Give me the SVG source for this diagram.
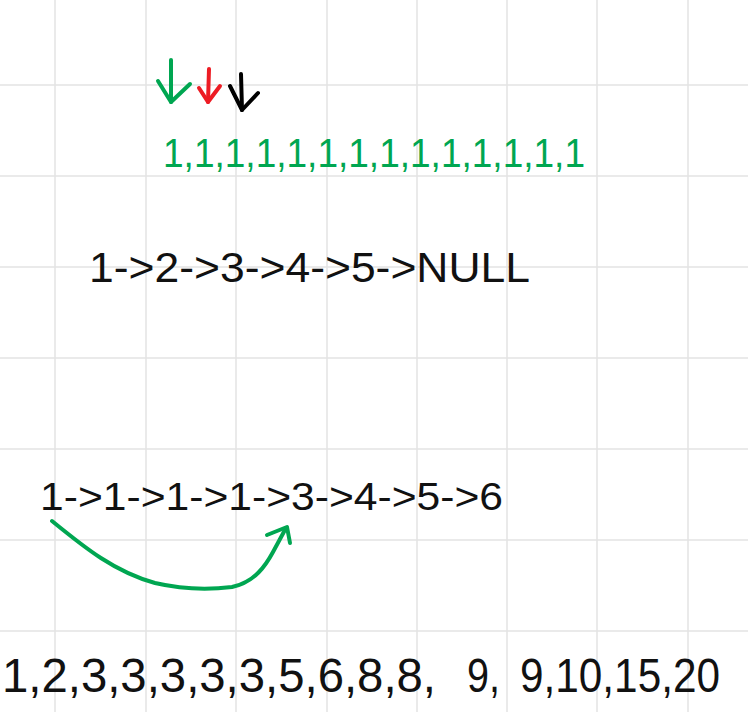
<svg xmlns="http://www.w3.org/2000/svg" width="748" height="712" viewBox="0 0 748 712">
<style>
.grid line{stroke:#e3e3e3;stroke-width:1.5}
.t{font-family:"Liberation Sans",Arial,sans-serif;fill:#111}
.g{fill:#00a651}
.stroke{fill:none;stroke-linecap:round;stroke-linejoin:round;stroke-width:4}
</style>
<rect width="748" height="712" fill="#fff"/>
<g class="grid">
<line x1="55" y1="0" x2="55" y2="712"/><line x1="146" y1="0" x2="146" y2="712"/><line x1="236" y1="0" x2="236" y2="712"/><line x1="327" y1="0" x2="327" y2="712"/><line x1="417" y1="0" x2="417" y2="712"/><line x1="507" y1="0" x2="507" y2="712"/><line x1="597" y1="0" x2="597" y2="712"/><line x1="688" y1="0" x2="688" y2="712"/>
<line x1="0" y1="85" x2="748" y2="85"/><line x1="0" y1="176" x2="748" y2="176"/><line x1="0" y1="267" x2="748" y2="267"/><line x1="0" y1="358" x2="748" y2="358"/><line x1="0" y1="449" x2="748" y2="449"/><line x1="0" y1="540" x2="748" y2="540"/><line x1="0" y1="631" x2="748" y2="631"/>
</g>
<g id="ones"><text class="t g" x="163" y="167" font-size="40" textLength="422" lengthAdjust="spacingAndGlyphs">1,1,1,1,1,1,1,1,1,1,1,1,1,1</text></g>
<g id="list1"><text class="t" x="89" y="282" font-size="42" textLength="441" lengthAdjust="spacingAndGlyphs">1-&gt;2-&gt;3-&gt;4-&gt;5-&gt;NULL</text></g>
<g id="list2"><text class="t" x="40" y="510" font-size="39" textLength="463" lengthAdjust="spacingAndGlyphs">1-&gt;1-&gt;1-&gt;1-&gt;3-&gt;4-&gt;5-&gt;6</text></g>
<g id="numbers">
<text class="t" x="2" y="692" font-size="48" textLength="434" lengthAdjust="spacingAndGlyphs">1,2,3,3,3,3,3,5,6,8,8,</text>
<text class="t" x="467" y="692" font-size="48" textLength="33" lengthAdjust="spacingAndGlyphs">9,</text>
<text class="t" x="520" y="692" font-size="48" textLength="200" lengthAdjust="spacingAndGlyphs">9,10,15,20</text>
</g>
<g id="connectors">
<g id="arrow-green" class="stroke" stroke="#00a651" stroke-width="5"><path d="M171 60 L171 102"/><path d="M158 81 L171 102 L190 84"/></g>
<g id="arrow-red" class="stroke" stroke="#ed1c24"><path d="M209 69 L208 102"/><path d="M199 88 L208 102 L220 86"/></g>
<g id="arrow-black" class="stroke" stroke="#000"><path d="M241 74 L242 110"/><path d="M230 86 L242 110 L258 93"/></g>
<g id="skip" class="stroke" stroke="#00a651" stroke-width="4.5"><path d="M52 521 C85 548 115 572 155 583 C185 590 215 589 232 587 C255 582 266 565 273 552 L286 528"/><path d="M267 535 L287 527 L290 543"/></g>
</g>
</svg>
